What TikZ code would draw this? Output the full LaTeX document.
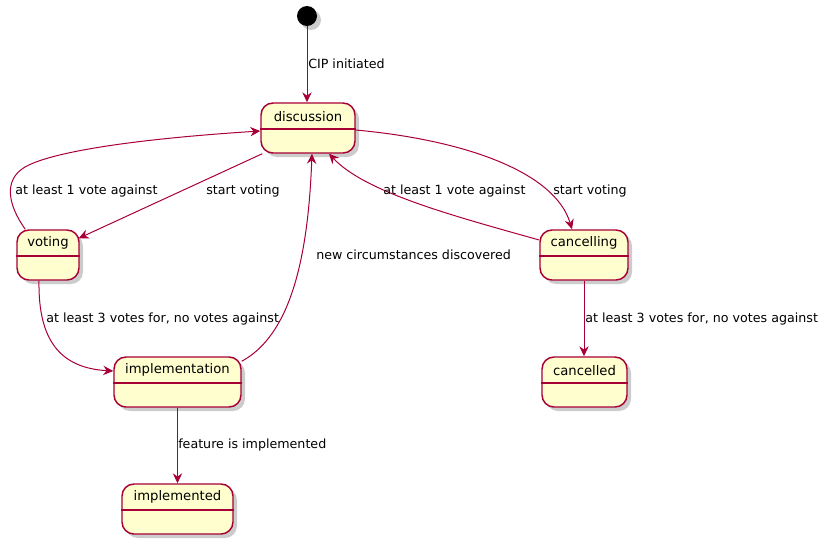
\documentclass[tikz,border=0pt]{standalone}
\usepackage{fontspec}
\setmainfont{DejaVu Sans}
\usetikzlibrary{arrows.meta,shadows}
\definecolor{bord}{HTML}{A80036}
\definecolor{sfill}{HTML}{FEFECE}
\newcommand\mystate[4]{%
  \node[statebox,minimum width=#3] (#1) at #2 {};
  \node[stname] (#1T) at ([yshift=-10.5pt]#1.north) {#4};
  \draw[divider] ([yshift=-20pt]#1.north west) -- ([yshift=-20pt]#1.north east);
}
\begin{document}
\begin{tikzpicture}[x=0.75pt,y=-0.75pt,
  shad/.style={drop shadow={shadow xshift=3pt,shadow yshift=-3pt,fill=black!40,opacity=0.5}},
  statebox/.style={draw=bord,fill=sfill,line width=1.1pt,rounded corners=9pt,minimum height=37.5pt,inner sep=0pt,shad},
  stname/.style={font=\fontsize{9.9pt}{12pt}\selectfont,inner sep=0pt},
  lbl/.style={font=\fontsize{9.5pt}{11pt}\selectfont,anchor=west,inner sep=0pt},
  edge/.style={draw=bord,line width=0.75pt,-{Stealth[length=7.5pt,width=7pt,inset=2.5pt]}},
  divider/.style={draw=bord,line width=1.1pt}]
\useasboundingbox (0,0) rectangle (826,547);

\node[circle,fill=black,minimum size=15pt,inner sep=0pt,shad] (start) at (307,16) {};

\mystate{disc}{(308,128)}{70.5pt}{discussion}
\mystate{voting}{(48,255)}{46.5pt}{voting}
\mystate{canc}{(584,255)}{66pt}{cancelling}
\mystate{cncd}{(584.5,382)}{63.75pt}{cancelled}
\mystate{impl}{(177.5,382)}{95.25pt}{implementation}
\mystate{impld}{(177.5,509)}{83.25pt}{implemented}

% edges
\draw[edge] (start.south) -- (start.south |- disc.north);
\draw[edge] ([shift={(2,0)}]disc.south west) -- ([shift={(-1,9)}]voting.north east);
\draw[edge] ([shift={(9,0)}]voting.north west) .. controls (8,205) and (3,180) .. (25,167)
   .. controls (55,150) and (150,138) .. ([shift={(0,3)}]disc.west);
\draw[edge] ([shift={(-9,0)}]voting.south) .. controls (38,340) and (60,368) .. ([shift={(0,-11)}]impl.west);
\draw[edge] ([shift={(0,5)}]impl.north east) .. controls (290,335) and (308,260) .. ([shift={(4,0)}]disc.south);
\draw[edge] ([shift={(0,-15)}]canc.west) .. controls (450,215) and (365,192) .. ([shift={(21,0)}]disc.south);
\draw[edge] ([shift={(0,2)}]disc.east) .. controls (465,140) and (555,172) .. ([shift={(-12,0)}]canc.north);
\draw[edge] (canc.south) -- (canc.south |- cncd.north);
\draw[edge] (impl.south) -- (impl.south |- impld.north);

% labels
\node[lbl] (l1) at (308,64) {CIP initiated};
\node[lbl] (l2) at (206,191) {start voting};
\node[lbl] (l3) at (15,191) {at least 1 vote against};
\node[lbl] (l4) at (46,319) {at least 3 votes for, no votes against};
\node[lbl] (l5) at (316,255) {new circumstances discovered};
\node[lbl] (l6) at (383,191) {at least 1 vote against};
\node[lbl] (l7) at (553,191) {start voting};
\node[lbl] (l8) at (585,319) {at least 3 votes for, no votes against};
\node[lbl] (l9) at (178,445) {feature is implemented};
\end{tikzpicture}
\end{document}
